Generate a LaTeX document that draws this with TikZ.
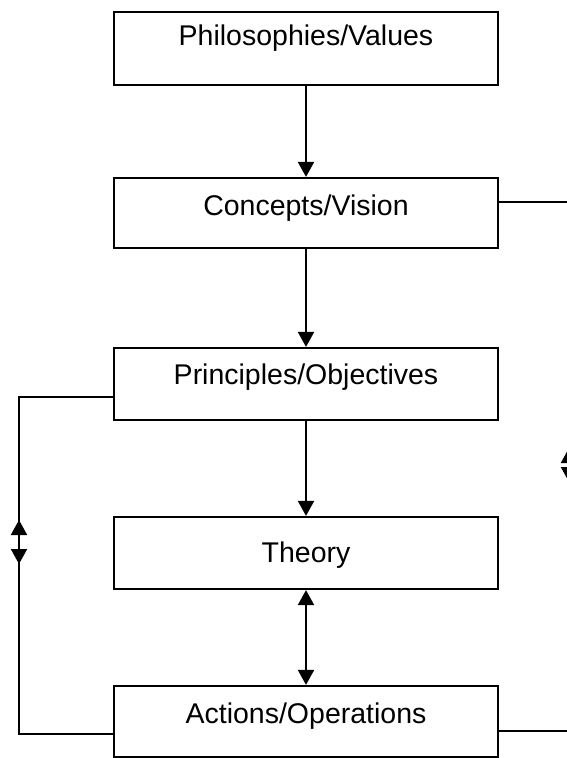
\documentclass[tikz,border=0pt]{standalone}
\usepackage{fontspec}
\setmainfont{Liberation Sans}
\usetikzlibrary{arrows.meta}
\begin{document}
\begin{tikzpicture}[x=1pt,y=-1pt,
  box/.style={draw,line width=2.2pt,rectangle,minimum width=384pt,inner xsep=0pt,inner ysep=0pt,font=\fontsize{28.5}{32}\selectfont},
  conn/.style={line width=2pt},
  arr/.style={conn,-{Triangle[length=15pt,width=16pt]}},
  darr/.style={conn,{Triangle[length=15pt,width=16pt]}-{Triangle[length=15pt,width=16pt]}}]
\useasboundingbox (0,0) rectangle (566,758);
\node[box,text height=33pt,text depth=40pt] (phil) at (306,48.5) {Philosophies/Values};
\node[box,text height=37pt,text depth=33pt] (conc) at (306,213) {Concepts/Vision};
\node[box,text height=36pt,text depth=36pt] (prin) at (306,384) {Principles/Objectives};
\node[box,text height=45pt,text depth=27pt] (theo) at (306,553) {Theory};
\node[box,text height=37pt,text depth=34pt] (act) at (306,721.5) {Actions/Operations};
% vertical arrows
\draw[arr] (phil.south) -- (conc.north);
\draw[arr] (conc.south) -- (prin.north);
\draw[arr] (prin.south) -- (theo.north);
\draw[darr] (theo.south) -- (act.north);
% left loop
\coordinate (pl) at (114,397);
\coordinate (al) at (114,734);
\coordinate (lm) at (19,542);
\coordinate (lu) at (19,520);
\coordinate (ld) at (19,564);
\draw[conn] (pl) -| (lm) |- (al);
\draw[arr] (lm) -- (lu);
\draw[arr] (lm) -- (ld);
% right loop (mostly outside the picture)
\coordinate (cr) at (498,202);
\coordinate (ar) at (498,731);
\coordinate (rm) at (569,465);
\coordinate (ru) at (569,448);
\coordinate (rd) at (569,482);
\draw[conn] (cr) -| (rm) |- (ar);
\draw[arr] (rm) -- (ru);
\draw[arr] (rm) -- (rd);
\end{tikzpicture}
\end{document}
